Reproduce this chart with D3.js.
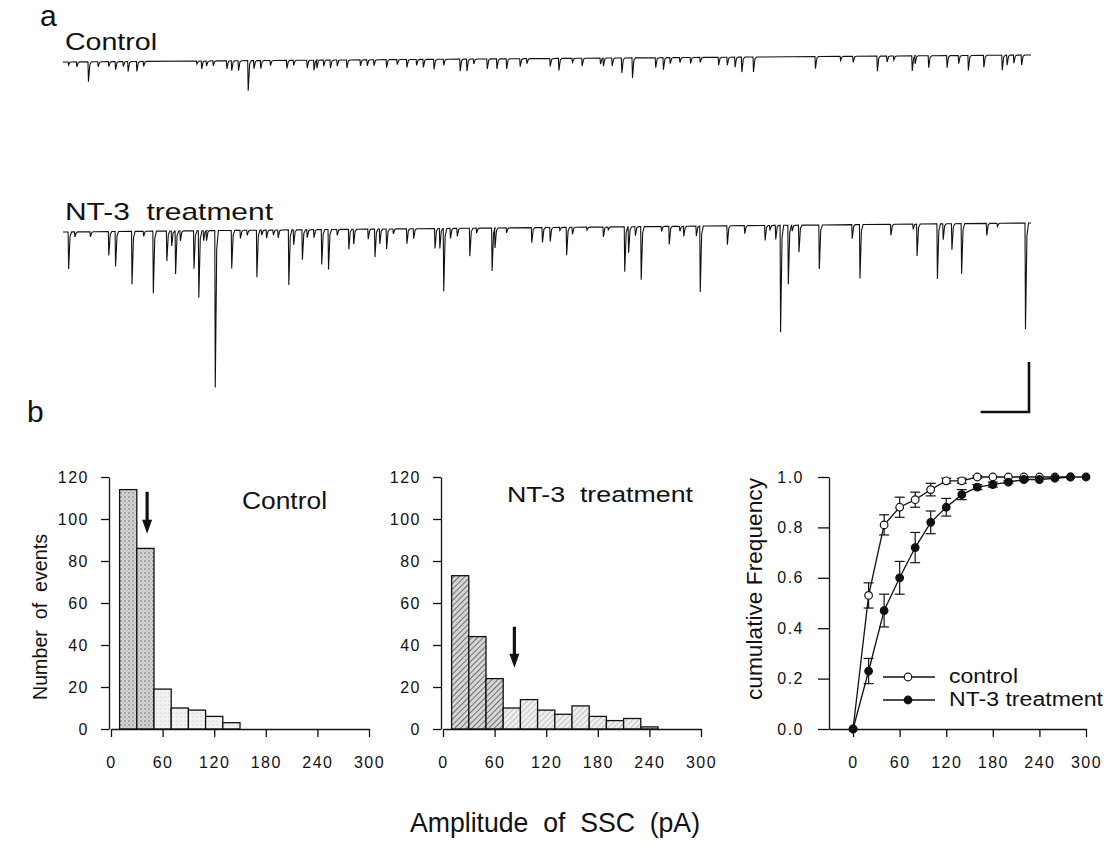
<!DOCTYPE html>
<html>
<head>
<meta charset="utf-8">
<script src="https://cdn.jsdelivr.net/npm/d3@7"></script>
<style>
  body { margin: 0; background: #fff; }
  svg { font-family: "Liberation Sans", Arial, sans-serif; }
  svg text { white-space: pre; }
  .axis path, .axis line { stroke: #111; stroke-width: 1.3; }
  .axis text { font-size: 16px; fill: #111; letter-spacing: 1.5px; }
  .trace { fill: none; stroke: #111; stroke-width: 1.1; }
</style>
</head>
<body>
<svg id="fig" width="1113" height="847"></svg>
<script>
// ---- histogram data (20 pA bins) ----
var controlBins = [20, 40, 60, 80, 100, 120, 140];
var controlCounts = [114, 86, 19, 10, 9, 6, 3];
var nt3Bins = [20, 40, 60, 80, 100, 120, 140, 160, 180, 200, 220, 240];
var nt3Counts = [73, 44, 24, 10, 14, 9, 7, 11, 6, 4, 5, 1];
var controlMean = 42, nt3Mean = 83;
var histTicksX = [0, 60, 120, 180, 240, 300];
var histTicksY = [0, 20, 40, 60, 80, 100, 120];

// ---- cumulative frequency ----
var cumAmp = [0, 20, 40, 60, 80, 100, 120, 140, 160, 180, 200, 220, 240, 260, 280, 300];
var cumControl = [0, 0.53, 0.81, 0.88, 0.91, 0.95, 0.985, 0.985, 1.0, 1.0, 1.0, 1.0, 1.0, 1.0, 1.0];
var cumControlErr = [0, 0.05, 0.04, 0.04, 0.03, 0.025, 0.01, 0.01, 0.005, 0, 0, 0, 0, 0, 0];
var cumNT3 = [0, 0.23, 0.47, 0.60, 0.72, 0.82, 0.88, 0.93, 0.96, 0.97, 0.98, 0.99, 0.99, 0.995, 1.0, 1.0];
var cumNT3Err = [0, 0.05, 0.065, 0.065, 0.06, 0.045, 0.035, 0.02, 0.01, 0.01, 0.005, 0.005, 0, 0, 0, 0];
var cumTicksY = [0, 0.2, 0.4, 0.6, 0.8, 1.0];

// ---- current traces: [time (s), amplitude (pA)] ----
var controlEvents = [[0.55,6],[1.4,10],[2.6,40],[3.6,10],[4.7,10],[5.4,16],[6.2,10],[6.7,20],[7.6,20],[8.3,10],
  [13.8,6],[14.3,16],[14.8,10],[15.5,10],[16.9,16],[17.4,20],[18.1,20],[19.1,60],[19.7,16],[20.4,16],[21.4,10],
  [23.1,16],[23.8,10],[25.2,16],[25.9,20],[26.2,16],[26.9,12],[27.6,16],[28.3,12],[29.3,16],[30.7,12],[31.4,12],
  [32.1,12],[33.4,16],[34.5,10],[35.5,16],[36.5,12],[37.2,16],[38.3,20],[39.3,12],[41.0,24],[41.7,24],[42.4,10],
  [43.8,20],[44.8,20],[45.8,20],[47.2,16],[47.9,10],[50.3,16],[51.2,24],[52.6,8],[53.6,16],[55.5,12],[55.8,16],
  [56.7,16],[57.7,30],[58.8,40],[61.2,20],[62.0,24],[62.7,12],[63.7,10],[64.8,12],[65.8,10],[67.7,16],[68.6,16],
  [69.4,20],[70.1,30],[71.3,30],[77.7,24],[80.3,8],[81.6,12],[84.1,30],[85.1,12],[85.8,8],[87.7,30],[88.0,16],
  [89.4,24],[91.3,24],[92.5,16],[93.5,30],[95.1,24],[97.0,30],[97.5,20],[98.2,16],[99.0,20]];
var nt3Events = [[0.55,74],[1.2,10],[2.8,10],[4.7,48],[5.4,70],[7.1,106],[8.3,10],[9.3,124],[10.7,60],[11.2,30],
  [11.6,86],[12.1,20],[13.5,76],[14.0,134],[14.5,20],[14.8,20],[15.7,314],[17.4,76],[18.3,16],[19.0,10],[20.0,94],
  [20.5,10],[21.0,16],[21.7,10],[22.2,16],[23.3,110],[23.8,30],[24.7,60],[25.2,16],[25.9,16],[26.7,70],[27.4,80],
  [28.3,12],[29.5,40],[30.0,30],[31.5,20],[32.2,56],[32.7,30],[33.4,40],[34.1,10],[35.5,30],[36.2,20],[38.4,40],
  [38.9,40],[39.3,126],[40.0,20],[40.7,16],[42.0,56],[42.7,10],[44.3,86],[44.6,40],[45.8,10],[48.4,30],[49.5,30],
  [50.3,28],[51.3,6],[52.0,56],[52.6,14],[54.1,6],[55.8,20],[56.3,6],[58.0,90],[58.4,52],[59.1,18],[59.7,106],
  [61.8,10],[62.6,36],[63.7,10],[64.1,20],[65.4,20],[65.8,132],[68.6,38],[70.4,16],[72.5,30],[73.0,10],[73.6,28],
  [74.1,214],[74.9,118],[75.3,12],[76.0,54],[78.1,88],[81.5,28],[82.3,108],[85.5,22],[87.8,10],[88.2,64],
  [90.3,110],[90.9,32],[91.8,52],[92.8,100],[95.4,24],[96.5,6],[99.4,212]];
var controlDrift = 14, nt3Drift = 18;   // baseline drift over the record, pA
var scaleBarPA = 100, scaleBarS = 5;

var svg = d3.select("#fig");
var defs = svg.append("defs");

function pattern(id, bg, rot, draw) {
  var p = defs.append("pattern").attr("id", id).attr("patternUnits", "userSpaceOnUse")
    .attr("width", 4).attr("height", 4);
  if (rot) p.attr("patternTransform", "rotate(" + rot + ")");
  p.append("rect").attr("width", 4).attr("height", 4).attr("fill", bg);
  draw(p);
}
pattern("stipDark", "#d4d4d4", 0, function(p) {
  p.append("circle").attr("cx", 1).attr("cy", 1).attr("r", 0.8).attr("fill", "#666");
  p.append("circle").attr("cx", 3).attr("cy", 3).attr("r", 0.6).attr("fill", "#999");
});
pattern("stipLight", "#f2f2f2", 0, function(p) {
  p.append("circle").attr("cx", 1).attr("cy", 1).attr("r", 0.6).attr("fill", "#bbb");
});
pattern("hatchDark", "#d6d6d6", 45, function(p) {
  p.append("line").attr("x1", 0).attr("y1", 0).attr("x2", 0).attr("y2", 4).attr("stroke", "#555").attr("stroke-width", 1.6);
});
pattern("hatchLight", "#eeeeee", 45, function(p) {
  p.append("line").attr("x1", 0).attr("y1", 0).attr("x2", 0).attr("y2", 4).attr("stroke", "#aaa").attr("stroke-width", 1.2);
});

function label(txt, x, y, size, width, rot) {
  var t = svg.append("text").attr("x", x).attr("y", y).style("font-size", size + "px").attr("fill", "#111").text(txt);
  if (width) t.attr("textLength", width).attr("lengthAdjust", "spacingAndGlyphs");
  if (rot) t.attr("transform", "rotate(" + rot + "," + x + "," + y + ")").attr("text-anchor", "middle");
  return t;
}

// ---------- panel a : traces ----------
var xT = d3.scaleLinear().domain([0, 100]).range([63, 1031]);
var aT = d3.scaleLinear().domain([0, 100]).range([0, 50]);

function trace(events, base, drift) {
  var pts = [[0, 0]];
  events.forEach(function(e) {
    pts.push([e[0] - 0.02, 0], [e[0] + 0.03, e[1]], [e[0] + 0.18, e[1] * 0.12], [e[0] + 0.35, 0]);
  });
  pts.push([100, 0]);
  var line = d3.line()
    .x(function(d) { return xT(d[0]); })
    .y(function(d) { return base - aT(drift * d[0] / 100) + aT(d[1]); });
  svg.append("path").attr("class", "trace").attr("d", line(pts));
}
trace(controlEvents, 62, controlDrift);
trace(nt3Events, 232, nt3Drift);

label("a", 40, 26, 30);
label("Control", 65, 50, 24, 92);
label("NT-3  treatment", 65, 220, 24, 208);

// scale bar
var sbx = 1029, sby = 412;
svg.append("path").attr("fill", "none").attr("stroke", "#111").attr("stroke-width", 2.6)
  .attr("d", "M" + (sbx - (xT(scaleBarS) - xT(0))) + "," + sby + "H" + sbx + "V" + (sby - aT(scaleBarPA)));

label("b", 27, 422, 30);

// ---------- panel b : histograms ----------
function histogram(x0, x1, bins, counts, dark, light, nDark, mean, arrowTop, arrowTip) {
  var x = d3.scaleLinear().domain([0, 300]).range([x0, x1]);
  var y = d3.scaleLinear().domain([0, 120]).range([729, 477]);
  var g = svg.append("g");
  g.selectAll("rect").data(counts).enter().append("rect")
    .attr("x", function(d, i) { return x(bins[i] - 10); })
    .attr("width", function(d, i) { return x(bins[i] + 10) - x(bins[i] - 10); })
    .attr("y", function(d) { return y(d); })
    .attr("height", function(d) { return y(0) - y(d); })
    .attr("fill", function(d, i) { return i < nDark ? dark : light; })
    .attr("stroke", "#111").attr("stroke-width", 1.3);
  g.append("g").attr("class", "axis").attr("transform", "translate(0,729)")
    .call(d3.axisBottom(x).tickValues(histTicksX).tickSize(8).tickPadding(20).tickSizeOuter(0));
  g.append("g").attr("class", "axis").attr("transform", "translate(" + (x0 - 2) + ",0)")
    .call(d3.axisLeft(y).tickValues(histTicksY).tickSize(8).tickPadding(12).tickSizeOuter(0));
  // arrow marking mean amplitude
  var ax = x(mean), top = y(arrowTop), tip = y(arrowTip);
  g.append("path").attr("fill", "#111")
    .attr("d", "M" + (ax - 1.6) + "," + top + "H" + (ax + 1.6) + "V" + (tip - 14) + "H" + (ax + 5) +
      "L" + ax + "," + tip + "L" + (ax - 5) + "," + (tip - 14) + "H" + (ax - 1.6) + "Z");
}
histogram(111, 369, controlBins, controlCounts, "url(#stipDark)", "url(#stipLight)", 2, controlMean, 113, 93);
histogram(443, 701, nt3Bins, nt3Counts, "url(#hatchDark)", "url(#hatchLight)", 3, nt3Mean, 48.7, 29.2);

label("Control", 242, 509, 23, 85);
label("NT-3  treatment", 507, 502, 22, 186);
label("Number  of  events", 47, 617, 21, 166, -90);

// ---------- cumulative frequency ----------
var xC = d3.scaleLinear().domain([-31, 300]).range([829, 1086]);
var yC = d3.scaleLinear().domain([0, 1]).range([729, 477]);
var gc = svg.append("g");
gc.append("g").attr("class", "axis").attr("transform", "translate(0,729)")
  .call(d3.axisBottom(xC).tickValues(histTicksX).tickSize(8).tickPadding(20).tickSizeOuter(0));
gc.append("g").attr("class", "axis").attr("transform", "translate(829,0)")
  .call(d3.axisLeft(yC).tickValues(cumTicksY).tickFormat(d3.format(".1f")).tickSize(11).tickPadding(14).tickSizeOuter(0));

function series(vals, errs, filled) {
  var pts = vals.map(function(v, i) { return [cumAmp[i], v, errs[i]]; });
  var g = gc.append("g");
  g.append("path").attr("fill", "none").attr("stroke", "#111").attr("stroke-width", 1.3)
    .attr("d", d3.line().x(function(d) { return xC(d[0]); }).y(function(d) { return yC(d[1]); })(pts));
  var eb = g.selectAll(".eb").data(pts.filter(function(d) { return d[2] > 0.004; })).enter().append("g")
    .attr("stroke", "#111").attr("stroke-width", 1.2);
  eb.append("line").attr("x1", function(d) { return xC(d[0]); }).attr("x2", function(d) { return xC(d[0]); })
    .attr("y1", function(d) { return yC(d[1] - d[2]); }).attr("y2", function(d) { return yC(d[1] + d[2]); });
  [-1, 1].forEach(function(s) {
    eb.append("line").attr("x1", function(d) { return xC(d[0]) - 5; }).attr("x2", function(d) { return xC(d[0]) + 5; })
      .attr("y1", function(d) { return yC(d[1] + s * d[2]); }).attr("y2", function(d) { return yC(d[1] + s * d[2]); });
  });
  g.selectAll("circle").data(pts).enter().append("circle")
    .attr("cx", function(d) { return xC(d[0]); }).attr("cy", function(d) { return yC(d[1]); })
    .attr("r", 3.8).attr("fill", filled ? "#111" : "#fff").attr("stroke", "#111").attr("stroke-width", 1.2);
}
series(cumControl, cumControlErr, false);
series(cumNT3, cumNT3Err, true);

// legend
[["control", false, 677, 69], ["NT-3 treatment", true, 700, 154]].forEach(function(l) {
  svg.append("line").attr("x1", 883).attr("x2", 935).attr("y1", l[2]).attr("y2", l[2])
    .attr("stroke", "#111").attr("stroke-width", 1.3);
  svg.append("circle").attr("cx", 908).attr("cy", l[2]).attr("r", 3.8)
    .attr("fill", l[1] ? "#111" : "#fff").attr("stroke", "#111").attr("stroke-width", 1.2);
  label(l[0], 949, l[2] + 6, 20, l[3]);
});
label("cumulative Frequency", 762, 589, 22, 222, -90);

label("Amplitude  of  SSC  (pA)", 555, 832, 28, 290).attr("text-anchor", "middle");
</script>
</body>
</html>
